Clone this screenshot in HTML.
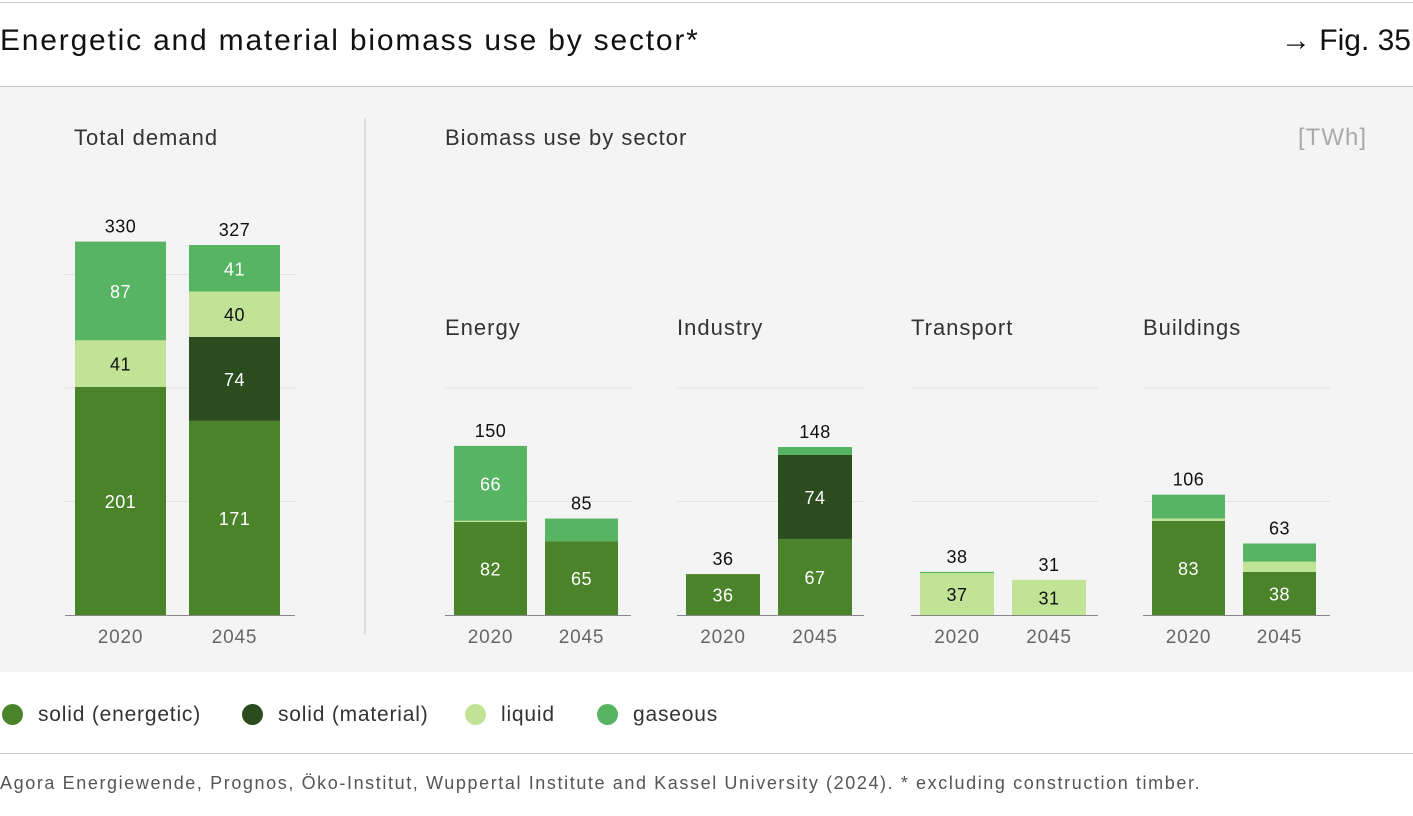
<!DOCTYPE html>
<html><head><meta charset="utf-8"><style>
body{margin:0;width:1413px;height:816px;background:#fff;font-family:"Liberation Sans",sans-serif;overflow:hidden;position:relative}
.t{position:absolute;white-space:nowrap}
</style></head><body>
<div style="position:absolute;left:0;top:2px;width:1413px;height:1px;background:#ccc"></div>
<div class="t" style="left:0;top:24px;font-size:30px;color:#111;letter-spacing:1.8px">Energetic and material biomass use by sector*</div>
<div class="t" style="right:2px;top:24px;font-size:30px;color:#111">→ Fig. 35</div>
<div style="position:absolute;left:0;top:86px;width:1413px;height:1px;background:#ccc"></div>
<svg id="c" width="1413" height="586" style="position:absolute;left:0;top:87px" font-family="Liberation Sans, sans-serif"></svg>
<div>
<div><span style="position:absolute;left:2px;top:704px;width:21px;height:21px;border-radius:50%;background:#4a8329"></span><span class="t" style="left:38px;top:703px;font-size:21px;color:#333;letter-spacing:0.8px">solid (energetic)</span></div>
<div><span style="position:absolute;left:242px;top:704px;width:21px;height:21px;border-radius:50%;background:#2b4d1e"></span><span class="t" style="left:278px;top:703px;font-size:21px;color:#333;letter-spacing:0.8px">solid (material)</span></div>
<div><span style="position:absolute;left:465px;top:704px;width:21px;height:21px;border-radius:50%;background:#c0e396"></span><span class="t" style="left:501px;top:703px;font-size:21px;color:#333;letter-spacing:0.8px">liquid</span></div>
<div><span style="position:absolute;left:597px;top:704px;width:21px;height:21px;border-radius:50%;background:#56b462"></span><span class="t" style="left:633px;top:703px;font-size:21px;color:#333;letter-spacing:0.8px">gaseous</span></div>
</div>
<div style="position:absolute;left:0;top:753px;width:1413px;height:1px;background:#ccc"></div>
<div class="t" style="left:0;top:773px;font-size:18px;color:#555;letter-spacing:1.6px">Agora Energiewende, Prognos, Öko-Institut, Wuppertal Institute and Kassel University (2024). * excluding construction timber.</div>
<script>
const groups=["Total demand","Energy","Industry","Transport","Buildings"];
const years=["2020","2045"];
const totals=[[330,327],[150,85],[36,148],[38,31],[106,63]];
const solidEnergetic=[[201,171],[82,65],[36,67],[0,0],[83,38]];
const solidMaterial=[[0,74],[0,0],[0,74],[0,0],[0,0]];
const liquid=[[41,40],[1,0],[0,0],[37,31],[2,9]];
const gaseous=[[87,41],[66,20],[0,7],[1,0],[21,16]];
const gridTicks=[100,200,300];
const series=[solidEnergetic,solidMaterial,liquid,gaseous];
const colors=["#4a8329","#2b4d1e","#c0e396","#56b462"];
const txtCol=["#fff","#fff","#111","#fff"];
const layout=[{gx:65,gw:230,bx:[75,189],bw:91,grid:[100,200,300]},{gx:445,gw:186,bx:[454,545],bw:73,grid:[100,200]},{gx:677,gw:187,bx:[686,778],bw:74,grid:[100,200]},{gx:911,gw:187,bx:[920,1012],bw:74,grid:[100,200]},{gx:1143,gw:187,bx:[1152,1243],bw:73,grid:[100,200]}];
const svg=document.getElementById('c');const NS="http://www.w3.org/2000/svg";const OY=87;
const base=615-OY;const k=1.135;
function y(v){return base-v*k;}
function mk(t,a,p){const e=document.createElementNS(NS,t);for(const n in a)e.setAttribute(n,a[n]);(p||svg).appendChild(e);return e;}
mk('rect',{x:0,y:0,width:1413,height:585,fill:'#f4f4f4'});
const dv=mk('line',{x1:365,x2:365,y1:118-OY,y2:635-OY,stroke:'#c8c8c8'});

function txt(s,x,yy,sz,fill,anchor,name,ls){const e=mk('text',{x:x,y:yy,'font-size':sz,fill:fill,'text-anchor':anchor||'start','letter-spacing':ls||0});e.textContent=s;return e;}
txt("Total demand",74,145-OY,22,'#333','start','total-demand-heading',1);
txt("Biomass use by sector",445,145-OY,22,'#333','start','sector-heading',1);
txt("[TWh]",1367,145-OY,24,'#aaa','end','unit-label',1);
groups.forEach((g,gi)=>{
  const L=layout[gi];
  if(gi>0)txt(g,L.gx,335-OY,22,'#333','start','group-title-'+g.toLowerCase(),1);
  L.grid.forEach(t=>{const l=mk('line',{x1:L.gx,x2:L.gx+L.gw,y1:y(t),y2:y(t),stroke:'#e2e2e2'});});
  years.forEach((yr,yi)=>{
    let acc=0;const x=L.bx[yi];
    series.forEach((s,si)=>{const v=s[gi][yi];if(!v)return;
      const r=mk('rect',{x:x,y:y(acc+v),width:L.bw,height:v*k,fill:colors[si]});
      
      if(v>=25)txt(String(v),x+L.bw/2,y(acc+v/2)+7,18,txtCol[si],'middle','segment-label',0.5);
      acc+=v;});
    txt(String(totals[gi][yi]),x+L.bw/2,y(acc)-9,18,'#111','middle','total-label',0.5);
    txt(yr,x+L.bw/2,643-OY,19,'#666','middle','year-label',0.8);
  });
  const a=mk('line',{x1:L.gx,x2:L.gx+L.gw,y1:base+0.5,y2:base+0.5,stroke:'#888'});
});
</script>
</body></html>
